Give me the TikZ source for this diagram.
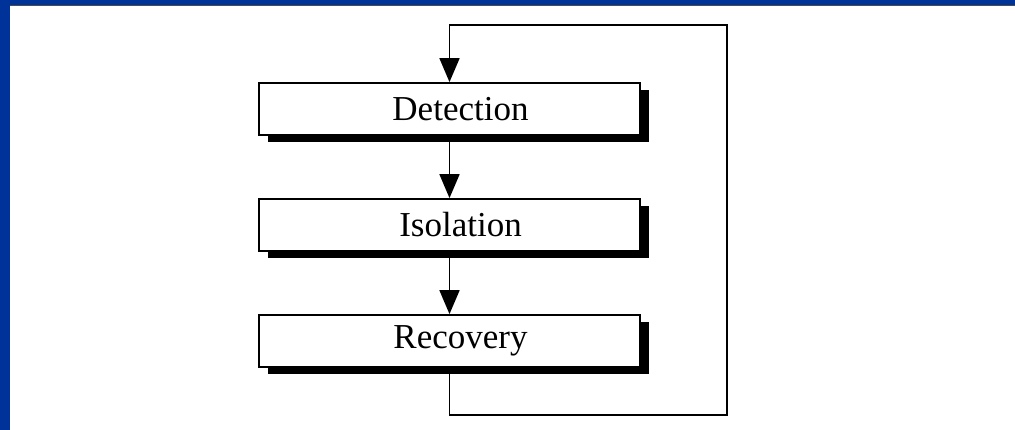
\documentclass[tikz,border=0pt]{standalone}
\usepackage{fontspec}
\setmainfont{Liberation Serif}
\usetikzlibrary{arrows.meta,shadows}
\definecolor{frameblue}{HTML}{003399}
\newcommand{\shiftR}{\hspace*{22pt}}
\tikzset{
  x=1pt,y=-1pt,
  stage/.style={draw=black, line width=1.8pt, fill=white, minimum width=381pt, minimum height=52pt,
    inner sep=0pt, font=\fontsize{35}{40}\selectfont,
    drop shadow={shadow xshift=9pt, shadow yshift=-7pt, fill=black, opacity=1}},
  flow/.style={line width=1.8pt, -{Triangle[length=24pt,width=20pt]}},
}
\begin{document}
\begin{tikzpicture}
\useasboundingbox (0,0) rectangle (1015,430);
\fill[white] (0,0) rectangle (1015,430);
% frame strips
\fill[frameblue] (0,0) rectangle (1015,5);
\fill[frameblue] (0,0) rectangle (10,430);
\draw[black!70, line width=0.8pt] (10,5.5) -- (1015,5.5);
% stages
\node[stage] (det) at (449.5,109) {\shiftR Detection};
\node[stage] (iso) at (449.5,225) {\shiftR Isolation};
\node[stage] (rec) at (449.5,341) {\shiftR Recovery};
% connectors
\draw[flow] (det.south) -- (iso.north);
\draw[flow] (iso.south) -- (rec.north);
\coordinate (lb) at (449.5,415);
\coordinate (rt) at (727,25);
\draw[flow] (rec.south) -- (lb) -| (rt) -| (det.north);
\end{tikzpicture}
\end{document}
